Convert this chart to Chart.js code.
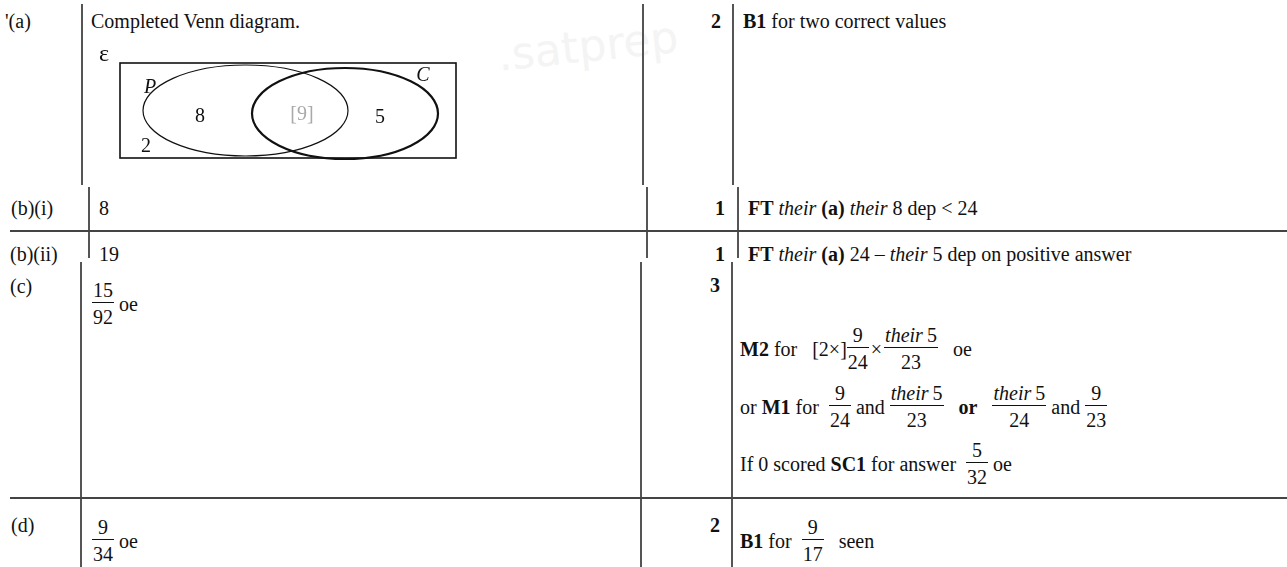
<!DOCTYPE html>
<html>
<head>
<meta charset="utf-8">
<title>Venn diagram mark scheme</title>
<script src="https://cdn.jsdelivr.net/npm/chart.js"></script>
<style>
  html, body { margin: 0; padding: 0; background: #fff; }
  body { width: 1287px; height: 567px; position: relative; overflow: hidden;
         font-family: "Liberation Serif", "Times New Roman", serif; color: #111; }
  .t { position: absolute; font-size: 20px; line-height: 20px; white-space: pre; }
  .r { text-align: right; }
  .row { position: absolute; display: flex; align-items: center; font-size: 20px; line-height: 20px; }
  .row span { white-space: pre; }
  .fr { display: inline-flex; flex-direction: column; align-items: stretch; text-align: center; }
  .fr .n { padding: 0 1px 2px; }
  .fr .d { padding: 4px 1px 0; border-top: 1.5px solid #111; }
  .vl { position: absolute; width: 1.5px; background: #555; }
  .hl { position: absolute; height: 1.5px; background: #444; }
  .wm { position: absolute; left: 495px; top: 30px; font: 44px "DejaVu Sans", sans-serif;
        color: #f4f4f4; transform: rotate(-6deg); transform-origin: left top; }
  #venn { position: absolute; left: 90px; top: 40px; }
</style>
</head>
<body>
<div class="wm">.satprep</div>

<!-- table rules -->
<div class="vl" style="left:81px;top:4px;height:181px"></div>
<div class="vl" style="left:642px;top:4px;height:181px"></div>
<div class="vl" style="left:732px;top:4px;height:181px"></div>
<div class="vl" style="left:88px;top:187px;height:71px"></div>
<div class="vl" style="left:646px;top:187px;height:71px"></div>
<div class="vl" style="left:737px;top:187px;height:71px"></div>
<div class="vl" style="left:80px;top:262px;height:305px"></div>
<div class="vl" style="left:640px;top:262px;height:305px"></div>
<div class="vl" style="left:731px;top:262px;height:305px"></div>
<div class="hl" style="left:10px;top:230px;width:1277px"></div>
<div class="hl" style="left:10px;top:497px;width:1277px"></div>

<!-- (a) -->
<div class="t" style="left:5px;top:11px">'(a)</div>
<div class="t" style="left:91px;top:11px">Completed Venn diagram.</div>
<div class="t r" style="right:566px;top:11px"><b>2</b></div>
<div class="t" style="left:743px;top:11px"><b>B1</b> for two correct values</div>
<canvas id="venn" width="380" height="130"></canvas>

<!-- (b)(i) and (b)(ii) -->
<div class="t" style="left:11px;top:198px">(b)(i)</div>
<div class="t" style="left:99px;top:198px">8</div>
<div class="t r" style="right:562px;top:198px"><b>1</b></div>
<div class="t" style="left:748px;top:198px"><b>FT</b> <i>their</i> <b>(a)</b> <i>their</i> 8 dep &lt; 24</div>
<div class="t" style="left:10px;top:244px">(b)(ii)</div>
<div class="t" style="left:99px;top:244px">19</div>
<div class="t r" style="right:562px;top:244px"><b>1</b></div>
<div class="t" style="left:748px;top:244px"><b>FT</b> <i>their</i> <b>(a)</b> 24 – <i>their</i> 5 dep on positive answer</div>

<!-- (c) -->
<div class="t" style="left:10px;top:276px">(c)</div>
<div class="row" style="left:92px;top:280px">
  <span class="fr"><span class="n">15</span><span class="d">92</span></span><span> oe</span>
</div>
<div class="t r" style="right:567px;top:275px"><b>3</b></div>
<div class="row" style="left:740px;top:325px">
  <span><b>M2</b> for   [2×]</span>
  <span class="fr"><span class="n">9</span><span class="d">24</span></span>
  <span style="margin:0 2px">×</span>
  <span class="fr"><span class="n"><i>their</i>&thinsp;5</span><span class="d">23</span></span>
  <span>   oe</span>
</div>
<div class="row" style="left:740px;top:383px">
  <span>or <b>M1</b> for  </span>
  <span class="fr"><span class="n">9</span><span class="d">24</span></span>
  <span> and </span>
  <span class="fr"><span class="n"><i>their</i>&thinsp;5</span><span class="d">23</span></span>
  <span>   <b>or</b>   </span>
  <span class="fr"><span class="n"><i>their</i>&thinsp;5</span><span class="d">24</span></span>
  <span> and </span>
  <span class="fr"><span class="n">9</span><span class="d">23</span></span>
</div>
<div class="row" style="left:740px;top:440px">
  <span>If 0 scored <b>SC1</b> for answer  </span>
  <span class="fr"><span class="n">5</span><span class="d">32</span></span>
  <span> oe</span>
</div>

<!-- (d) -->
<div class="t" style="left:11px;top:515px">(d)</div>
<div class="row" style="left:92px;top:517px">
  <span class="fr"><span class="n">9</span><span class="d">34</span></span><span> oe</span>
</div>
<div class="t r" style="right:567px;top:515px"><b>2</b></div>
<div class="row" style="left:740px;top:517px">
  <span><b>B1</b> for  </span>
  <span class="fr"><span class="n">9</span><span class="d">17</span></span>
  <span>   seen</span>
</div>

<script>
// Venn regions and their counts
const regionNames = ["P only", "P and C", "C only", "neither"];
const regionValues = [8, 9, 5, 2];
const setNames = ["P", "C"];
const universeName = "ε";

// where things sit, in the diagram's own units (1 unit = 1 canvas px)
const regionLabelPos = [[110, 77], [212, 75], [290, 78], [56, 107]];
const setLabelPos = [[60, 48], [333, 36]];
const universeLabelPos = [[14, 15]];
const universeBox = { x0: 30, y0: 23, x1: 366, y1: 118 };
const setEllipses = [
  { cx: 155.5, cy: 70.5, rx: 102.5, ry: 45.5, width: 1.2 },
  { cx: 255, cy: 73.5, rx: 93, ry: 45.5, width: 2.2 },
];

const fontFamily = '"Liberation Serif", "Times New Roman", serif';

// rectangle + ellipses, placed through the scales
const vennShapes = {
  id: "vennShapes",
  beforeDatasetsDraw(chart) {
    const { ctx, scales } = chart;
    const px = (v) => scales.x.getPixelForValue(v);
    const py = (v) => scales.y.getPixelForValue(v);
    ctx.save();
    ctx.strokeStyle = "#111";
    ctx.lineWidth = 1.6;
    ctx.strokeRect(
      px(universeBox.x0), py(universeBox.y0),
      px(universeBox.x1) - px(universeBox.x0), py(universeBox.y1) - py(universeBox.y0)
    );
    setEllipses.forEach((e) => {
      ctx.beginPath();
      ctx.lineWidth = e.width;
      ctx.ellipse(px(e.cx), py(e.cy),
        Math.abs(px(e.cx + e.rx) - px(e.cx)), Math.abs(py(e.cy + e.ry) - py(e.cy)),
        0, 0, Math.PI * 2);
      ctx.stroke();
    });
    ctx.restore();
  },
};

// writes each point's text where the scale put the point
const pointText = {
  id: "pointText",
  afterDatasetsDraw(chart) {
    const { ctx } = chart;
    chart.data.datasets.forEach((ds, i) => {
      const meta = chart.getDatasetMeta(i);
      ctx.save();
      ctx.font = ds.textFont;
      ctx.textAlign = "center";
      ctx.textBaseline = "middle";
      meta.data.forEach((pt, j) => {
        ctx.fillStyle = ds.textColors ? ds.textColors[j] : "#111";
        ctx.fillText(ds.texts[j], pt.x, pt.y);
      });
      ctx.restore();
    });
  },
};

new Chart(document.getElementById("venn"), {
  type: "scatter",
  data: {
    datasets: [
      {
        label: "regions",
        data: regionLabelPos.map(([x, y]) => ({ x, y })),
        texts: regionValues.map((v, i) => (regionNames[i] === "P and C" ? `[${v}]` : String(v))),
        textColors: regionNames.map((n) => (n === "P and C" ? "#a9a9a9" : "#111")),
        textFont: `20px ${fontFamily}`,
        pointRadius: 0,
      },
      {
        label: "sets",
        data: setLabelPos.map(([x, y]) => ({ x, y })),
        texts: setNames,
        textFont: `italic 20px ${fontFamily}`,
        pointRadius: 0,
      },
      {
        label: "universe",
        data: universeLabelPos.map(([x, y]) => ({ x, y })),
        texts: [universeName],
        textFont: `24px ${fontFamily}`,
        pointRadius: 0,
      },
    ],
  },
  options: {
    responsive: false,
    animation: false,
    events: [],
    layout: { padding: 0 },
    plugins: { legend: { display: false }, tooltip: { enabled: false } },
    scales: {
      x: { type: "linear", min: 0, max: 380, display: false },
      y: { type: "linear", min: 0, max: 130, reverse: true, display: false },
    },
  },
  plugins: [vennShapes, pointText],
});
</script>
</body>
</html>
